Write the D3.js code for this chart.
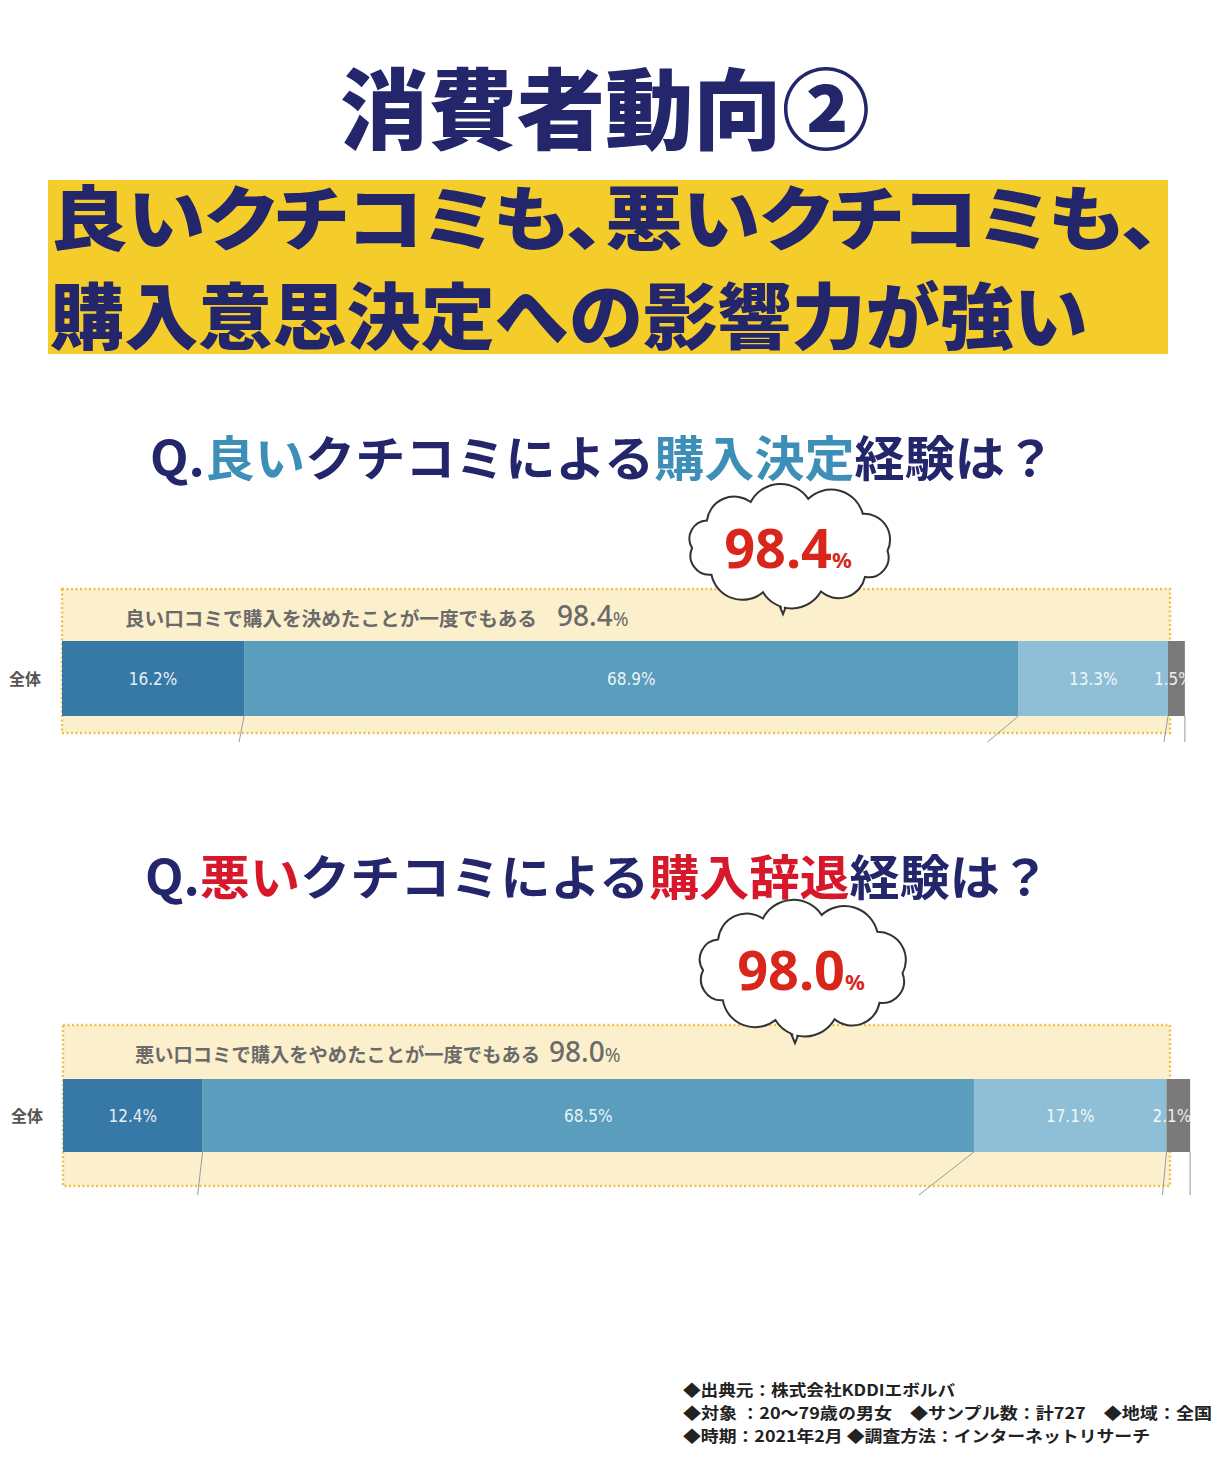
<!DOCTYPE html>
<html>
<head>
<meta charset="utf-8">
<script src="https://cdn.jsdelivr.net/npm/d3@7"></script>
<style>
  body { margin: 0; background: #fff; }
  svg { display: block; }
</style>
</head>
<body>
<svg id="chart"></svg>
<script>
// データ
var categories = ["全体"];
var goodValues = [16.2, 68.9, 13.3, 1.5];
var badValues = [12.4, 68.5, 17.1, 2.1];
var totals = [98.4, 98.0];
var headerTexts = ["良い口コミで購入を決めたことが一度でもある", "悪い口コミで購入をやめたことが一度でもある"];
var segColors = ["#3679a6", "#5a9dbd", "#8fbfd6", "#7a7a7a"];
var footerLines = [
  "◆出典元：株式会社KDDIエボルバ",
  "◆対象 ：20～79歳の男女　◆サンプル数：計727　◆地域：全国",
  "◆時期：2021年2月 ◆調査方法：インターネットリサーチ"
];
var footerWidths = [272, 529, 467];

var JP = "'Noto Sans CJK JP', 'Noto Sans', sans-serif";
var NAVY = "#23266b";

var svg = d3.select("#chart").attr("width", 1220).attr("height", 1460);

// タイトル
svg.append("text")
  .attr("x", 340).attr("y", 142)
  .attr("textLength", 530).attr("lengthAdjust", "spacingAndGlyphs")
  .style("font-family", JP).style("font-weight", 900).style("font-size", "88px")
  .attr("fill", NAVY)
  .text("消費者動向②");

// 黄色の帯
svg.append("rect").attr("x", 48).attr("y", 180).attr("width", 1120).attr("height", 174).attr("fill", "#f5cd2a");
svg.append("text")
  .attr("x", 50).attr("y", 245)
  .attr("textLength", 1110).attr("lengthAdjust", "spacingAndGlyphs")
  .style("font-family", JP).style("font-weight", 900).style("font-size", "70px")
  .style("font-feature-settings", "'palt'")
  .attr("fill", NAVY)
  .text("良いクチコミも、悪いクチコミも、");
svg.append("text")
  .attr("x", 50).attr("y", 343)
  .attr("textLength", 1038).attr("lengthAdjust", "spacingAndGlyphs")
  .style("font-family", JP).style("font-weight", 900).style("font-size", "72px")
  .attr("fill", NAVY)
  .text("購入意思決定への影響力が強い");

// 質問文
function question(x, y, parts) {
  var t = svg.append("text")
    .attr("x", x).attr("y", y)
    .attr("textLength", 905).attr("lengthAdjust", "spacingAndGlyphs")
    .style("font-family", JP).style("font-weight", 700).style("font-size", "48px");
  parts.forEach(function(p) {
    t.append("tspan").attr("fill", p[1]).text(p[0]);
  });
}
question(150, 476, [["Q.", NAVY], ["良い", "#3d8fb8"], ["クチコミによる", NAVY], ["購入決定", "#3d8fb8"], ["経験は？", NAVY]]);
question(145, 895, [["Q.", NAVY], ["悪い", "#d7182a"], ["クチコミによる", NAVY], ["購入辞退", "#d7182a"], ["経験は？", NAVY]]);

// 雲の吹き出し
function cloud(cx, cy, rx, ry, tipX, tipY, total) {
  var angles = [0.1, 0.7, 1.25, 1.85, 2.5, 3.1, 3.7, 4.3, 4.9, 5.55];
  var pts = angles.map(function(a) { return [cx + rx * Math.cos(a), cy + ry * Math.sin(a)]; });
  var d = "M" + pts[0][0] + "," + pts[0][1];
  for (var i = 1; i <= pts.length; i++) {
    var p = pts[i % pts.length], q = pts[i - 1];
    var r = Math.hypot(p[0] - q[0], p[1] - q[1]) * 0.58;
    d += "A" + r + "," + r + " 0 0 1 " + p[0] + "," + p[1];
  }
  d += "Z";
  var g = svg.append("g");
  // しっぽ → 雲 → 重なり部分を白で隠す
  var tail = [[tipX - 11, tipY - 26], [tipX, tipY], [tipX + 11, tipY - 28]];
  g.append("path").attr("d", "M" + tail[0] + "L" + tail[1] + "L" + tail[2] + "Z")
    .attr("fill", "#fff").attr("stroke", "#333").attr("stroke-width", 2);
  g.append("path").attr("d", d).attr("fill", "#fff").attr("stroke", "#333").attr("stroke-width", 2);
  var inner = [[tipX - 9, tipY - 28], [tipX, tipY - 4], [tipX + 9, tipY - 30]];
  g.append("path").attr("d", "M" + inner[0] + "L" + inner[1] + "L" + inner[2] + "Z").attr("fill", "#fff");
  var t = g.append("text").attr("x", cx - 2).attr("y", cy + 22).attr("text-anchor", "middle")
    .style("font-family", "'Noto Sans', sans-serif").style("font-weight", 700).attr("fill", "#d9261c");
  t.append("tspan").style("font-size", "54px").text(total.toFixed(1));
  t.append("tspan").style("font-size", "22px").text("%");
}

// 帯グラフ
function panel(values, total, header, box, xRange, yRange, idx) {
  var x = d3.scaleLinear().domain([0, 100]).range(xRange);
  var y = d3.scaleBand().domain(categories).range(yRange).padding(0);

  var g = svg.append("g");
  g.append("rect")
    .attr("x", box[0]).attr("y", box[1]).attr("width", box[2] - box[0]).attr("height", box[3] - box[1])
    .attr("fill", "#fcf0cc").attr("stroke", "#eec24a").attr("stroke-width", 2.5).attr("stroke-dasharray", "2,2.5");

  var hx = box[0] + (idx ? 72 : 63);
  var h = g.append("text").attr("x", hx).attr("y", box[1] + 37)
    .style("font-family", JP).attr("fill", "#6a6a6a");
  h.append("tspan").style("font-size", "19px").style("font-weight", 700)
    .attr("textLength", idx ? 405 : 412).attr("lengthAdjust", "spacingAndGlyphs").text(header);
  h.append("tspan").attr("dx", idx ? 9 : 20).style("font-size", "28px").style("font-weight", 500)
    .style("font-family", "'Noto Sans', sans-serif").text(total.toFixed(1));
  h.append("tspan").style("font-size", "19px").style("font-family", "'Noto Sans', sans-serif").text("%");

  var starts = [0];
  values.forEach(function(v, i) { starts.push(starts[i] + v); });
  var segs = values.map(function(v, i) { return { v: v, s: starts[i], e: starts[i] + v, i: i }; });

  // 細い引き出し線
  var by = y("全体") + y.bandwidth();
  var lineDx = [-5, idx ? -55 : -31, -4, 0];
  segs.forEach(function(d) {
    g.append("line").attr("x1", x(d.e)).attr("y1", by).attr("x2", x(d.e) + lineDx[d.i]).attr("y2", box[3] + 9)
      .attr("stroke", "#9a9a9a").attr("stroke-width", 1);
  });

  var clipId = "clip" + idx;
  svg.append("clipPath").attr("id", clipId).append("rect")
    .attr("x", x(0)).attr("y", y("全体")).attr("width", x(starts[4]) - x(0)).attr("height", y.bandwidth());

  g.selectAll(".seg").data(segs).enter().append("rect")
    .attr("x", function(d) { return x(d.s); })
    .attr("y", y("全体"))
    .attr("width", function(d) { return x(d.e) - x(d.s); })
    .attr("height", y.bandwidth())
    .attr("fill", function(d) { return segColors[d.i]; });

  g.append("g").attr("clip-path", "url(#" + clipId + ")")
    .selectAll("text").data(segs).enter().append("text")
    .attr("x", function(d) { return d.i === 3 ? x(d.s) - 14 : (x(d.s) + x(d.e)) / 2; })
    .attr("y", y("全体") + y.bandwidth() / 2 + 6)
    .attr("text-anchor", function(d) { return d.i === 3 ? "start" : "middle"; })
    .style("font-family", "'DejaVu Sans Condensed', 'Liberation Sans Narrow', sans-serif")
    .style("font-stretch", "condensed")
    .style("font-size", "17px")
    .attr("fill", "#fff").attr("fill-opacity", 0.9)
    .text(function(d) { return d.v.toFixed(1) + "%"; });

  g.append("text").attr("x", idx ? 27 : 25).attr("y", y("全体") + y.bandwidth() / 2 + 6)
    .attr("text-anchor", "middle")
    .style("font-family", JP).style("font-size", "16px").style("font-weight", 700)
    .attr("fill", "#555").text(categories[0]);
}

panel(goodValues, totals[0], headerTexts[0], [62, 589, 1170, 733], [62, 1186], [641, 716], 0);
panel(badValues, totals[1], headerTexts[1], [63, 1025, 1170, 1186], [63, 1189], [1079, 1152], 1);

cloud(790, 546, 98, 48, 783, 614, totals[0]);
cloud(803, 968, 100, 54, 795, 1043, totals[1]);

// 出典
svg.append("g").selectAll("text").data(footerLines).enter().append("text")
  .attr("x", 683)
  .attr("y", function(d, i) { return 1396 + i * 23; })
  .attr("textLength", function(d, i) { return footerWidths[i]; })
  .attr("lengthAdjust", "spacingAndGlyphs")
  .style("font-family", JP).style("font-size", "16px").style("font-weight", 700)
  .attr("fill", "#222")
  .text(function(d) { return d; });
</script>
</body>
</html>
